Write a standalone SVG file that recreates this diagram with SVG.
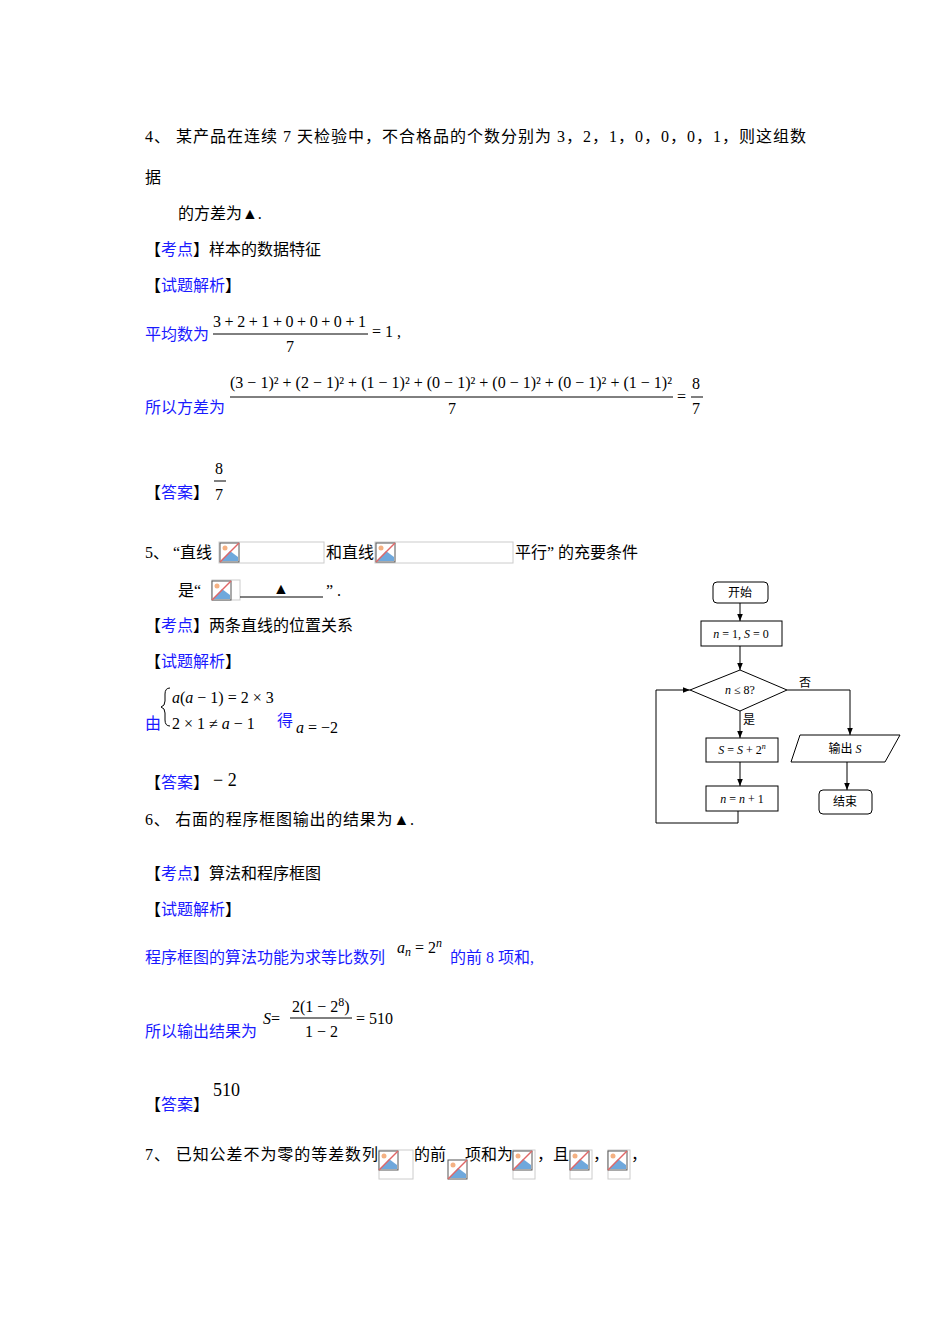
<svg xmlns="http://www.w3.org/2000/svg" width="950" height="1344" viewBox="0 0 950 1344">
<style>
text{font-family:"Liberation Serif","Noto Sans CJK SC",serif;font-size:16px;fill:#000}
.b{fill:#1a1aff}
.i{font-style:italic}
.s{font-size:12px}
.f{fill:none;stroke:#000;stroke-width:1}
.fr{stroke:#000;stroke-width:1}
.img{fill:#fff;stroke:#ccc;stroke-width:1}
</style>
<defs>
<marker id="ar" viewBox="0 0 10 10" refX="10" refY="5" markerWidth="7" markerHeight="7" orient="auto"><path d="M0,1 L10,5 L0,9 z" fill="#000"/></marker>
<g id="bi"><rect x="0" y="0" width="19" height="19" fill="#fff" stroke="#555"/><path d="M1,18 L10,8 L18,14 L18,18 z" fill="#6fa8dc"/><circle cx="5" cy="5" r="2.5" fill="#f4b183"/><line x1="0" y1="19" x2="19" y2="0" stroke="#e06666" stroke-width="1.5"/></g>
</defs>
<g id="q4">
<text x="145" y="142" textLength="661">4、  某产品在连续 7 天检验中，不合格品的个数分别为 3，2，1，0，0，0，1，则这组数</text>
<text x="145" y="183">据</text>
<text x="178" y="219">的方差为▲.</text>
<text x="145" y="255"><tspan>【</tspan><tspan class="b">考点</tspan><tspan>】样本的数据特征</tspan></text>
<text x="145" y="291"><tspan>【</tspan><tspan class="b">试题解析</tspan><tspan>】</tspan></text>
<text x="145" y="340" class="b">平均数为</text>
<text x="213" y="327" textLength="153">3 + 2 + 1 + 0 + 0 + 0 + 1</text>
<line x1="213" y1="334" x2="368" y2="334" class="fr"/>
<text x="286" y="352">7</text>
<text x="372" y="337">= 1 ,</text>
<text x="145" y="413" class="b">所以方差为</text>
<text x="230" y="388" textLength="442">(3 − 1)² + (2 − 1)² + (1 − 1)² + (0 − 1)² + (0 − 1)² + (0 − 1)² + (1 − 1)²</text>
<line x1="230" y1="397" x2="673" y2="397" class="fr"/>
<text x="448" y="414">7</text>
<text x="677" y="402">=</text>
<text x="692" y="389">8</text>
<line x1="691" y1="397" x2="703" y2="397" class="fr"/>
<text x="692" y="414">7</text>
<text x="145" y="498"><tspan>【</tspan><tspan class="b">答案</tspan><tspan>】</tspan></text>
<text x="215" y="474">8</text>
<line x1="214" y1="481" x2="226" y2="481" class="fr"/>
<text x="215" y="500">7</text>
</g>
<g id="q5">
<text x="145" y="558">5、 “直线</text>
<rect x="219" y="542" width="105" height="21" class="img"/><use href="#bi" x="220" y="543"/>
<text x="326" y="558">和直线</text>
<rect x="375" y="542" width="138" height="21" class="img"/><use href="#bi" x="376" y="543"/>
<text x="515" y="558">平行” 的充要条件</text>
<text x="178" y="596">是“</text>
<rect x="212" y="580" width="28" height="20" class="img"/><use href="#bi" x="212" y="581"/>
<line x1="240" y1="597" x2="323" y2="597" class="fr"/>
<text x="273" y="594">▲</text>
<text x="326" y="596">” .</text>
<text x="145" y="631"><tspan>【</tspan><tspan class="b">考点</tspan><tspan>】两条直线的位置关系</tspan></text>
<text x="145" y="667"><tspan>【</tspan><tspan class="b">试题解析</tspan><tspan>】</tspan></text>
<text x="145" y="729" class="b">由</text>
<path d="M170,688 q-5,0 -5,6 v7 q0,5 -4,6 q4,1 4,6 v7 q0,6 5,6" class="f"/>
<text x="172" y="703"><tspan class="i">a</tspan>(<tspan class="i">a</tspan> − 1) = 2 × 3</text>
<text x="172" y="729">2 × 1 ≠ <tspan class="i">a</tspan> − 1</text>
<text x="277" y="726" class="b">得</text>
<text x="296" y="733"><tspan class="i">a</tspan> = −2</text>
<text x="145" y="788"><tspan>【</tspan><tspan class="b">答案</tspan><tspan>】</tspan></text>
<text x="213" y="786" style="font-size:18px">− 2</text>
</g>
<g id="q6">
<text x="145" y="825" textLength="269">6、  右面的程序框图输出的结果为▲.</text>
<text x="145" y="879"><tspan>【</tspan><tspan class="b">考点</tspan><tspan>】算法和程序框图</tspan></text>
<text x="145" y="915"><tspan>【</tspan><tspan class="b">试题解析</tspan><tspan>】</tspan></text>
<text x="145" y="963" class="b">程序框图的算法功能为求等比数列</text>
<text x="397" y="953"><tspan class="i">a</tspan><tspan class="i s" dy="3">n</tspan><tspan dy="-3"> = 2</tspan><tspan class="i s" dy="-6">n</tspan></text>
<text x="450" y="963" class="b">的前 8 项和,</text>
<text x="145" y="1037" class="b">所以输出结果为</text>
<text x="263" y="1024"><tspan class="i">S</tspan>=</text>
<text x="292" y="1012">2(1 − 2<tspan class="s" dy="-6">8</tspan><tspan dy="6">)</tspan></text>
<line x1="290" y1="1018" x2="352" y2="1018" class="fr"/>
<text x="305" y="1037">1 − 2</text>
<text x="356" y="1024">= 510</text>
<text x="145" y="1110"><tspan>【</tspan><tspan class="b">答案</tspan><tspan>】</tspan></text>
<text x="213" y="1096" style="font-size:18px">510</text>
</g>
<g id="q7">
<text x="145" y="1160" textLength="233">7、  已知公差不为零的等差数列</text>
<rect x="379" y="1150" width="34" height="29" class="img"/><use href="#bi" x="379" y="1151"/>
<text x="414" y="1160">的前</text>
<use href="#bi" x="448" y="1160"/>
<text x="465" y="1160">项和为</text>
<rect x="513" y="1150" width="22" height="29" class="img"/><use href="#bi" x="513" y="1151"/>
<text x="537" y="1160">，且</text>
<rect x="570" y="1150" width="22" height="29" class="img"/><use href="#bi" x="570" y="1151"/>
<text x="593" y="1160">，</text>
<rect x="608" y="1150" width="22" height="29" class="img"/><use href="#bi" x="608" y="1151"/>
<text x="631" y="1160">，</text>
</g>
<g id="fc-start"><rect x="713" y="582" width="55" height="21" rx="4" class="f"/><text x="740" y="597" text-anchor="middle" style="font-size:12px">开始</text></g>
<g id="fc-init"><rect x="701" y="621" width="81" height="25" class="f"/><text x="741" y="638" text-anchor="middle" class="s"><tspan class="i">n</tspan> = 1, <tspan class="i">S</tspan> = 0</text></g>
<g id="fc-cond"><path d="M690,690 L740,670 L787,690 L740,711 z" class="f"/><text x="740" y="694" text-anchor="middle" class="s"><tspan class="i">n</tspan> ≤ 8?</text></g>
<g id="fc-sum"><rect x="706" y="738" width="72" height="24" class="f"/><text x="742" y="754" text-anchor="middle" class="s"><tspan class="i">S</tspan> = <tspan class="i">S</tspan> + 2<tspan dy="-5" style="font-size:8px" class="i">n</tspan></text></g>
<g id="fc-inc"><rect x="706" y="786" width="72" height="25" class="f"/><text x="742" y="803" text-anchor="middle" class="s"><tspan class="i">n</tspan> = <tspan class="i">n</tspan> + 1</text></g>
<g id="fc-out"><path d="M800,735 L900,735 L885,762 L791,762 z" class="f"/><text x="845" y="753" text-anchor="middle" class="s">输出 <tspan class="i">S</tspan></text></g>
<g id="fc-end"><rect x="819" y="790" width="53" height="24" rx="4" class="f"/><text x="845" y="806" text-anchor="middle" class="s">结束</text></g>
<g id="connectors" class="f">
<line x1="740" y1="603" x2="740" y2="621" marker-end="url(#ar)"/>
<line x1="740" y1="646" x2="740" y2="670" marker-end="url(#ar)"/>
<line x1="740" y1="711" x2="740" y2="738" marker-end="url(#ar)"/>
<line x1="740" y1="762" x2="740" y2="786" marker-end="url(#ar)"/>
<polyline points="738,811 738,823 656,823 656,690 690,690" marker-end="url(#ar)"/>
<polyline points="787,690 850,690 850,735" marker-end="url(#ar)"/>
<line x1="847" y1="762" x2="847" y2="790" marker-end="url(#ar)"/>
</g>
<text x="799" y="687" class="s">否</text>
<text x="743" y="724" class="s">是</text>
</svg>
